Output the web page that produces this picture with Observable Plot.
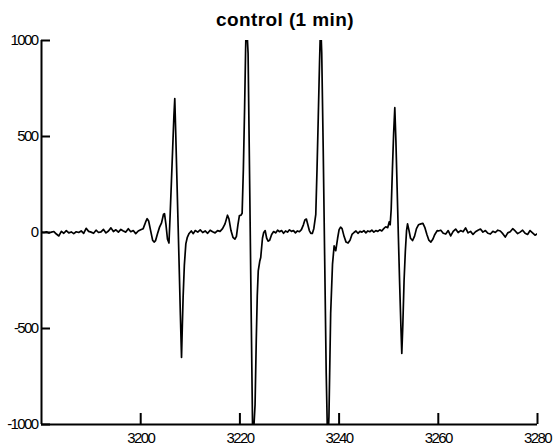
<!DOCTYPE html>
<html>
<head>
<meta charset="utf-8">
<script src="https://cdn.jsdelivr.net/npm/d3@7"></script>
<script src="https://cdn.jsdelivr.net/npm/@observablehq/plot@0.6"></script>
<style>
  html, body { margin: 0; padding: 0; background: #fff; }
  #chart { position: relative; width: 554px; height: 448px; font-family: "Liberation Sans", Arial, sans-serif; }
  #title { position: absolute; left: 8px; top: 9px; width: 554px; text-align: center;
           font-weight: bold; font-size: 19px; letter-spacing: 0.4px; color: #000; }
  #plot { position: absolute; left: 0; top: 30px; }
</style>
</head>
<body>
<div id="chart">
  <div id="title">control (1 min)</div>
  <div id="plot"></div>
</div>
<script>
// Magnetic field (G) and first-derivative signal of the control spectrum
const field = [
  3180.0, 3180.5, 3181.0, 3181.5, 3182.0, 3182.5, 3183.0, 3183.5, 3184.0, 3184.5,
  3185.0, 3185.5, 3186.0, 3186.5, 3187.0, 3187.5, 3188.0, 3188.5, 3189.0, 3189.5,
  3190.0, 3190.5, 3191.0, 3191.5, 3192.0, 3192.5, 3193.0, 3193.5, 3194.0, 3194.5,
  3195.0, 3195.5, 3196.0, 3196.5, 3197.0, 3197.5, 3198.0, 3198.5, 3199.0, 3199.5,
  3200.0, 3200.5, 3201.0, 3201.3, 3201.6, 3202.0, 3202.4, 3202.7, 3203.0, 3203.4,
  3203.8, 3204.2, 3204.6, 3204.8, 3205.1, 3205.4, 3205.7, 3205.95, 3206.2, 3206.45,
  3206.7, 3206.87, 3207.05, 3207.3, 3207.55, 3207.8, 3208.0, 3208.23, 3208.4, 3208.55,
  3208.8, 3209.1, 3209.4, 3209.76, 3210.2, 3210.6, 3211.0, 3211.5, 3212.0, 3212.5,
  3213.0, 3213.5, 3214.0, 3214.5, 3215.0, 3215.5, 3216.0, 3216.5, 3217.0, 3217.5,
  3217.8, 3218.2, 3218.6, 3219.0, 3219.3, 3219.6, 3219.9, 3220.2, 3220.45, 3220.7,
  3220.95, 3221.15, 3221.3, 3221.65, 3222.0, 3222.3, 3222.6, 3223.06, 3223.3, 3223.5,
  3223.7, 3224.0, 3224.2, 3224.55, 3224.8, 3225.1, 3225.4, 3225.7, 3226.0, 3226.4,
  3226.8, 3227.2, 3227.6, 3228.0, 3228.4, 3228.8, 3229.2, 3229.6, 3230.0, 3230.4,
  3230.8, 3231.2, 3231.6, 3232.0, 3232.4, 3232.8, 3233.1, 3233.4, 3233.7, 3234.0,
  3234.3, 3234.6, 3234.9, 3235.3, 3235.55, 3235.8, 3236.05, 3236.28, 3236.5, 3236.8,
  3237.1, 3237.4, 3237.7, 3237.95, 3238.3, 3238.67, 3239.0, 3239.33, 3239.7, 3240.0,
  3240.3, 3240.6, 3241.0, 3241.4, 3241.8, 3242.2, 3242.6, 3243.0, 3243.4, 3243.8,
  3244.2, 3244.6, 3245.0, 3245.4, 3245.8, 3246.2, 3246.6, 3247.0, 3247.4, 3247.8,
  3248.2, 3248.6, 3249.0, 3249.4, 3249.8, 3250.1, 3250.3, 3250.5, 3250.75, 3251.0,
  3251.23, 3251.45, 3251.7, 3251.95, 3252.2, 3252.45, 3252.64, 3252.85, 3253.1, 3253.35,
  3253.6, 3253.8, 3254.1, 3254.4, 3254.8, 3255.2, 3255.6, 3256.0, 3256.5, 3256.9,
  3257.3, 3257.7, 3258.1, 3258.5, 3258.9, 3259.3, 3259.8, 3260.0, 3260.5, 3261.0,
  3261.5, 3262.0, 3262.5, 3263.0, 3263.5, 3264.0, 3264.5, 3265.0, 3265.5, 3266.0,
  3266.5, 3267.0, 3267.5, 3268.0, 3268.5, 3269.0, 3269.5, 3270.0, 3270.5, 3271.0,
  3271.5, 3272.0, 3272.5, 3273.0, 3273.5, 3274.0, 3274.5, 3275.0, 3275.5, 3276.0,
  3276.5, 3277.0, 3277.5, 3278.0, 3278.5, 3279.0, 3279.5, 3280.0
];
const signal = [
  2, 0, 4, -3, 2, 5, -8, -18, 6, -4,
  10, -2, 3, -6, 4, 0, 8, -5, 22, 6,
  2, -4, 12, 0, 3, 16, -2, 8, 24, 5,
  14, 2, 16, 8, 2, 20, 4, 10, -6, 8,
  14, 20, 55, 72, 60, 10, -40, -50, -42, -5,
  28, 50, 95, 98, 40, -35, -55, 100, 270, 440,
  610, 698, 530, 280, 30, -220, -430, -651, -480, -338,
  -170, -59, -25, -5, 8, -6, 10, 2, 14, 0,
  8, -4, 12, 4, -2, 10, 6, 20, 45, 90,
  70, 10, -25, -35, -20, 40, 88, 90, 100, 330,
  650, 950, 1120, 933, 190, -470, -1120, -895, -560, -330,
  -200, -150, -130, -30, 0, 10, -30, -45, -40, -10,
  5, -2, 12, 4, 10, -4, 8, 2, 14, 6,
  10, -2, 8, 4, 15, 40, 65, 70, 40, 10,
  -5, -5, 20, 95, 330, 600, 880, 1100, 933, 430,
  -150, -730, -1120, -960, -420, -165, -70, -95, -30, 15,
  28, 20, -20, -50, -55, -40, -10, 0, 8, -4,
  6, 2, 10, -2, 8, 4, 12, 2, 10, 6,
  14, 8, 20, 30, 25, 55, 40, 120, 330, 520,
  650, 480, 230, -20, -260, -480, -630, -480, -250, -100,
  10, 45, 10, -30, -42, -20, 20, 40, 45, 48,
  25, -10, -40, -50, -35, -10, 10, 8, 12, -4,
  -8, 10, -18, 6, 18, 0, 10, 4, 24, -2,
  6, -10, 4, 12, 18, 2, 10, -4, -8, 6,
  0, 12, 8, -6, -24, -2, 4, 20, 8, -6,
  2, 12, -4, -10, 10, -2, -14, -6
];
const xTicks = [3200, 3220, 3240, 3260, 3280];
const yTicks = [-1000, -500, 0, 500, 1000];
const xDomain = [3180, 3280];
const yDomain = [-1000, 1000];

const spectrum = field.map((f, i) => ({field: f, signal: signal[i]}));

const W = 554, H = 418;
const mTop = 10, mBottom = 24, mLeft = 41, mRight = 17;
const innerW = W - mLeft - mRight;
const innerH = H - mTop - mBottom;

const chart = Plot.plot({
  width: W,
  height: H,
  marginTop: mTop,
  marginBottom: mBottom,
  marginLeft: mLeft,
  marginRight: mRight,
  style: {
    fontFamily: "'Liberation Sans', Arial, sans-serif",
    fontSize: "15px",
    letterSpacing: "-1.6px",
    color: "#000",
    background: "#fff",
    overflow: "visible"
  },
  x: {domain: xDomain, label: null},
  y: {domain: yDomain, label: null},
  marks: [
    // axis lines along the left and bottom edges
    Plot.ruleX([xDomain[0]], {stroke: "#000", strokeWidth: 2}),
    Plot.ruleY([yDomain[0]], {stroke: "#000", strokeWidth: 2}),
    // inward tick marks
    Plot.tickY(yTicks, {y: d => d, insetRight: innerW - 9, stroke: "#000", strokeWidth: 2}),
    Plot.tickX(xTicks, {x: d => d, insetTop: innerH - 11, stroke: "#000", strokeWidth: 2}),
    // spectrum trace
    Plot.line(spectrum, {x: "field", y: "signal", stroke: "#000", strokeWidth: 1.7, clip: true}),
    Plot.axisX({ticks: xTicks, tickSize: 0, tickPadding: 7.5, tickFormat: d => String(d), fill: "#000"}),
    Plot.axisY({ticks: yTicks, tickSize: 0, tickPadding: 4, tickFormat: d => String(d), fill: "#000"})
  ]
});
document.getElementById("plot").appendChild(chart);
</script>
</body>
</html>
